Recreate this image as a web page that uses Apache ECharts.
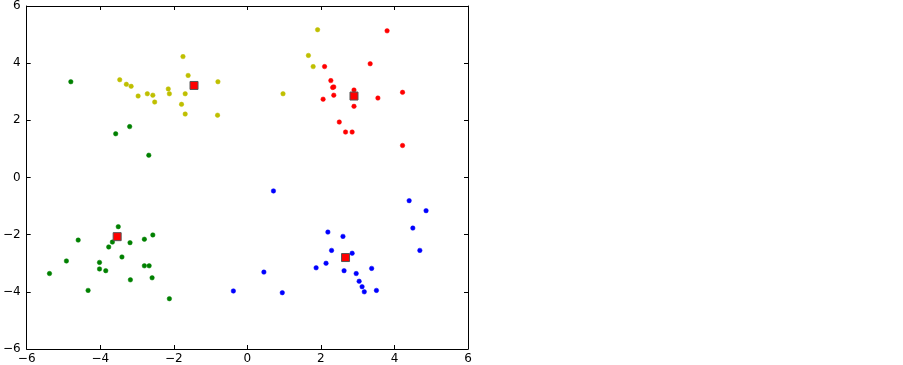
<!DOCTYPE html>
<html><head><meta charset="utf-8">
<script src="https://cdn.jsdelivr.net/npm/echarts@6/dist/echarts.min.js"></script>
<style>html,body{margin:0;padding:0;background:#fff}#c{width:903px;height:365px}</style>
</head><body><div id="c"></div>
<script>
const xTicks = [-6, -4, -2, 0, 2, 4, 6];
const yTicks = [-6, -4, -2, 0, 2, 4, 6];

const yellowPts = [[-3.47,3.42],[-3.29,3.26],[-3.16,3.19],[-2.97,2.85],[-2.72,2.93],[-2.57,2.88],[-2.52,2.64],[-2.15,3.10],[-2.12,2.93],[-1.75,4.23],[-1.61,3.57],[-1.69,2.93],[-1.79,2.56],[-1.69,2.22],[-0.80,3.35],[-0.81,2.18],[1.91,5.17],[1.66,4.27],[1.79,3.88],[0.97,2.93]];
const redPts = [[3.80,5.13],[3.34,3.98],[2.10,3.88],[2.27,3.39],[2.35,3.17],[2.32,3.15],[2.35,2.88],[2.06,2.74],[2.90,3.06],[2.90,2.49],[3.55,2.78],[4.22,2.98],[2.50,1.94],[2.67,1.59],[2.85,1.59],[4.22,1.12]];
const greenPts = [[-4.80,3.35],[-3.58,1.53],[-3.20,1.78],[-2.68,0.78],[-5.38,-3.36],[-4.92,-2.92],[-4.60,-2.19],[-4.33,-3.95],[-4.02,-2.97],[-4.02,-3.20],[-3.85,-3.26],[-3.77,-2.43],[-3.67,-2.26],[-3.51,-1.72],[-3.41,-2.78],[-3.19,-2.28],[-3.18,-3.58],[-2.80,-2.16],[-2.57,-2.01],[-2.80,-3.09],[-2.67,-3.09],[-2.59,-3.51],[-2.12,-4.24]];
const bluePts = [[-0.38,-3.97],[0.45,-3.31],[0.71,-0.47],[0.95,-4.03],[1.87,-3.16],[2.14,-3.00],[2.19,-1.91],[2.29,-2.55],[2.60,-2.06],[2.63,-3.26],[2.85,-2.65],[2.96,-3.36],[3.04,-3.63],[3.12,-3.82],[3.18,-4.00],[3.38,-3.18],[3.51,-3.95],[4.40,-0.81],[4.86,-1.16],[4.50,-1.77],[4.69,-2.55]];
const centroids = [[-1.45,3.22],[2.90,2.85],[-3.54,-2.07],[2.67,-2.80]];

const fmt = v => (v < 0 ? '\u2212' + Math.abs(v) : String(v));
const font = {fontFamily:'DejaVu Sans', fontSize:12, color:'#000'};
function axisBase(extra){
  return Object.assign({
    type:'value', min:-6, max:6, interval:2,
    axisLine:{show:true, onZero:false, lineStyle:{color:'#000', width:1}},
    axisTick:{show:true, inside:true, length:4, lineStyle:{color:'#000'}},
    splitLine:{show:false}
  }, extra);
}
const dot = c => ({color:c, borderColor:c, borderWidth:0.5, opacity:1});
const chart = echarts.init(document.getElementById('c'));
chart.setOption({
  animation:false,
  backgroundColor:'#fff',
  grid:{left:26, top:6, width:442, height:345, containLabel:false},
  xAxis:[
    axisBase({position:'bottom', axisLabel:Object.assign({formatter:fmt, margin:4}, font)}),
    axisBase({position:'top', axisLabel:{show:false}})
  ],
  yAxis:[
    axisBase({position:'left', axisLabel:Object.assign({formatter:fmt, margin:6}, font)}),
    axisBase({position:'right', axisLabel:{show:false}})
  ],
  series:[
    {type:'scatter', data:yellowPts, symbolSize:4.5, itemStyle:dot('#bfbf00')},
    {type:'scatter', data:redPts, symbolSize:4.5, itemStyle:dot('#ff0000')},
    {type:'scatter', data:greenPts, symbolSize:4.5, itemStyle:dot('#008000')},
    {type:'scatter', data:bluePts, symbolSize:4.5, itemStyle:dot('#0000ff')},
    {type:'scatter', data:centroids, symbol:'rect', symbolSize:8, itemStyle:{color:'#ff0000', borderColor:'#555', borderWidth:1, opacity:1}, z:5}
  ]
});
</script></body></html>
